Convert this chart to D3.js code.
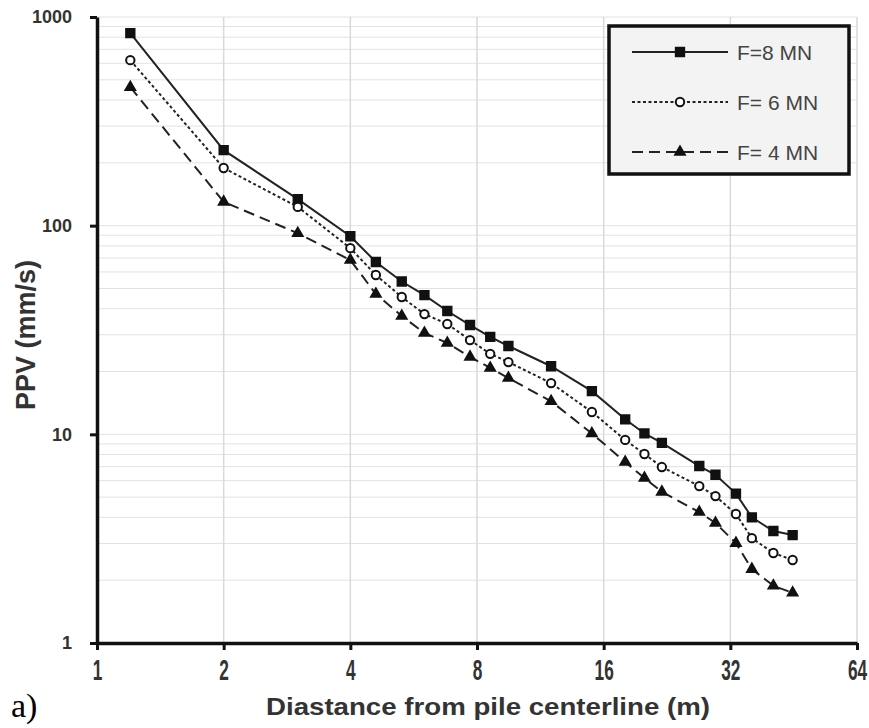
<!DOCTYPE html>
<html>
<head>
<meta charset="utf-8">
<script src="https://cdn.jsdelivr.net/npm/d3@7"></script>
<style>
body { margin: 0; background: #fff; }
</style>
</head>
<body>
<svg width="869" height="728"></svg>
<script>
// distances (m) and peak particle velocity (mm/s)
var distances = [1.2, 2, 3, 4, 4.6, 5.3, 6, 6.8, 7.7, 8.6, 9.5, 12, 15, 18, 20, 22, 27, 29.5, 33, 36, 40.5, 45];
var ppv8 = [837, 230, 134, 89, 67, 54, 46.5, 39, 33.4, 29.3, 26.5, 21.2, 16.1, 11.8, 10.1, 9.1, 7.05, 6.4, 5.2, 4.0, 3.44, 3.29];
var ppv6 = [621, 189, 123, 78, 58, 45.5, 37.7, 33.8, 28.3, 24.3, 22.2, 17.6, 12.8, 9.4, 8.05, 6.97, 5.65, 5.06, 4.15, 3.18, 2.7, 2.5];
var ppv4 = [461, 130, 92, 68.4, 47, 36.9, 30.6, 27.4, 23.5, 20.8, 18.6, 14.4, 10.1, 7.37, 6.17, 5.3, 4.24, 3.76, 3.01, 2.26, 1.88, 1.74];
var seriesNames = ["F=8 MN", "F= 6 MN", "F= 4 MN"];
var xTicks = [1, 2, 4, 8, 16, 32, 64];
var yTicks = [1, 10, 100, 1000];

var svg = d3.select("svg"),
    margin = {top: 17, right: 12, bottom: 85, left: 97},
    width = +svg.attr("width") - margin.left - margin.right,
    height = +svg.attr("height") - margin.top - margin.bottom;

var g = svg.append("g").attr("transform", "translate(" + margin.left + "," + margin.top + ")");

var x = d3.scaleLog().base(2).domain([1, 64]).range([0, width]);
var y = d3.scaleLog().domain([1, 1000]).range([height, 0]);

// grid
g.append("g").selectAll("line")
    .data(y.ticks())
    .enter().append("line")
    .attr("x1", 0).attr("x2", width)
    .attr("y1", function(d) { return y(d); })
    .attr("y2", function(d) { return y(d); })
    .attr("stroke", "#e2e2e2").attr("stroke-width", 1);

g.append("g").selectAll("line")
    .data(xTicks.slice(1))
    .enter().append("line")
    .attr("x1", function(d) { return x(d); })
    .attr("x2", function(d) { return x(d); })
    .attr("y1", 0).attr("y2", height)
    .attr("stroke", "#d9d9d9").attr("stroke-width", 1.5);

// series
var series = [
    {name: seriesNames[0], values: ppv8, dash: null, symbol: d3.symbolSquare, size: 70, fill: "#111"},
    {name: seriesNames[1], values: ppv6, dash: "3,2.5", symbol: d3.symbolCircle, size: 55, fill: "#fff"},
    {name: seriesNames[2], values: ppv4, dash: "11,6", symbol: d3.symbolTriangle, size: 40, fill: "#111"}
];

var line = d3.line()
    .x(function(d) { return x(d[0]); })
    .y(function(d) { return y(d[1]); });

series.forEach(function(s) {
    var pts = d3.zip(distances, s.values);
    g.append("path")
        .datum(pts)
        .attr("fill", "none")
        .attr("stroke", "#222")
        .attr("stroke-width", 2)
        .attr("stroke-dasharray", s.dash)
        .attr("d", line);
    g.append("g").selectAll("path")
        .data(pts)
        .enter().append("path")
        .attr("transform", function(d) { return "translate(" + x(d[0]) + "," + y(d[1]) + ")"; })
        .attr("d", d3.symbol().type(s.symbol).size(s.size))
        .attr("fill", s.fill)
        .attr("stroke", "#111")
        .attr("stroke-width", 2);
});

// axes
var yAxis = g.append("g")
    .call(d3.axisLeft(y).tickValues(yTicks).tickFormat(d3.format("d")).tickSize(7).tickSizeOuter(0).tickPadding(18));
var xAxis = g.append("g")
    .attr("transform", "translate(0," + height + ")")
    .call(d3.axisBottom(x).tickValues(xTicks).tickFormat(d3.format("d")).tickSize(7).tickSizeOuter(0).tickPadding(0));

[yAxis, xAxis].forEach(function(a) {
    a.select(".domain").attr("stroke", "#111").attr("stroke-width", 3.5);
    a.selectAll(".tick line").attr("stroke", "#111").attr("stroke-width", 3);
});
yAxis.selectAll(".tick text")
    .attr("fill", "#333")
    .style("font-family", "'Liberation Sans', Arial, sans-serif")
    .style("font-weight", "bold")
    .style("font-size", "18px");
// narrow, tall tick labels like the original
xAxis.selectAll(".tick text")
    .attr("y", 0)
    .attr("dy", 0)
    .attr("transform", "translate(0,37) scale(0.72,1.2)")
    .attr("fill", "#333")
    .style("font-family", "'Liberation Sans', Arial, sans-serif")
    .style("font-weight", "bold")
    .style("font-size", "24px");

// axis titles
svg.append("text")
    .attr("x", margin.left + width / 2 + 11)
    .attr("y", 715)
    .attr("text-anchor", "middle")
    .attr("textLength", 444)
    .attr("lengthAdjust", "spacingAndGlyphs")
    .attr("fill", "#333")
    .style("font-family", "'Liberation Sans', Arial, sans-serif")
    .style("font-weight", "bold")
    .style("font-size", "24px")
    .text("Diastance from pile centerline (m)");

svg.append("text")
    .attr("transform", "translate(35,335) rotate(-90)")
    .attr("text-anchor", "middle")
    .attr("fill", "#333")
    .style("font-family", "'Liberation Sans', Arial, sans-serif")
    .style("font-weight", "bold")
    .style("font-size", "27px")
    .text("PPV (mm/s)");

svg.append("text")
    .attr("x", 11)
    .attr("y", 717)
    .style("font-family", "'Liberation Serif', 'Times New Roman', serif")
    .style("font-size", "34px")
    .attr("fill", "#000")
    .text("a)");

// legend
var legend = svg.append("g").attr("transform", "translate(609,26)");
legend.append("rect")
    .attr("width", 240).attr("height", 148)
    .attr("fill", "#f3f3f3")
    .attr("stroke", "#111").attr("stroke-width", 3.5);

var rows = legend.selectAll(".row")
    .data(series)
    .enter().append("g")
    .attr("class", "row")
    .attr("transform", function(d, i) { return "translate(0," + (26 + i * 50) + ")"; });

rows.append("line")
    .attr("x1", 23).attr("x2", 119)
    .attr("stroke", "#222").attr("stroke-width", 2)
    .attr("stroke-dasharray", function(d) { return d.dash; });
rows.append("path")
    .attr("transform", "translate(71,0)")
    .attr("d", function(d) { return d3.symbol().type(d.symbol).size(d.size)(); })
    .attr("fill", function(d) { return d.fill; })
    .attr("stroke", "#111").attr("stroke-width", 2);
rows.append("text")
    .attr("x", 128)
    .attr("dy", "0.36em")
    .attr("fill", "#444")
    .style("font-family", "'Liberation Sans', Arial, sans-serif")
    .style("font-size", "21px")
    .text(function(d) { return d.name; });
</script>
</body>
</html>
